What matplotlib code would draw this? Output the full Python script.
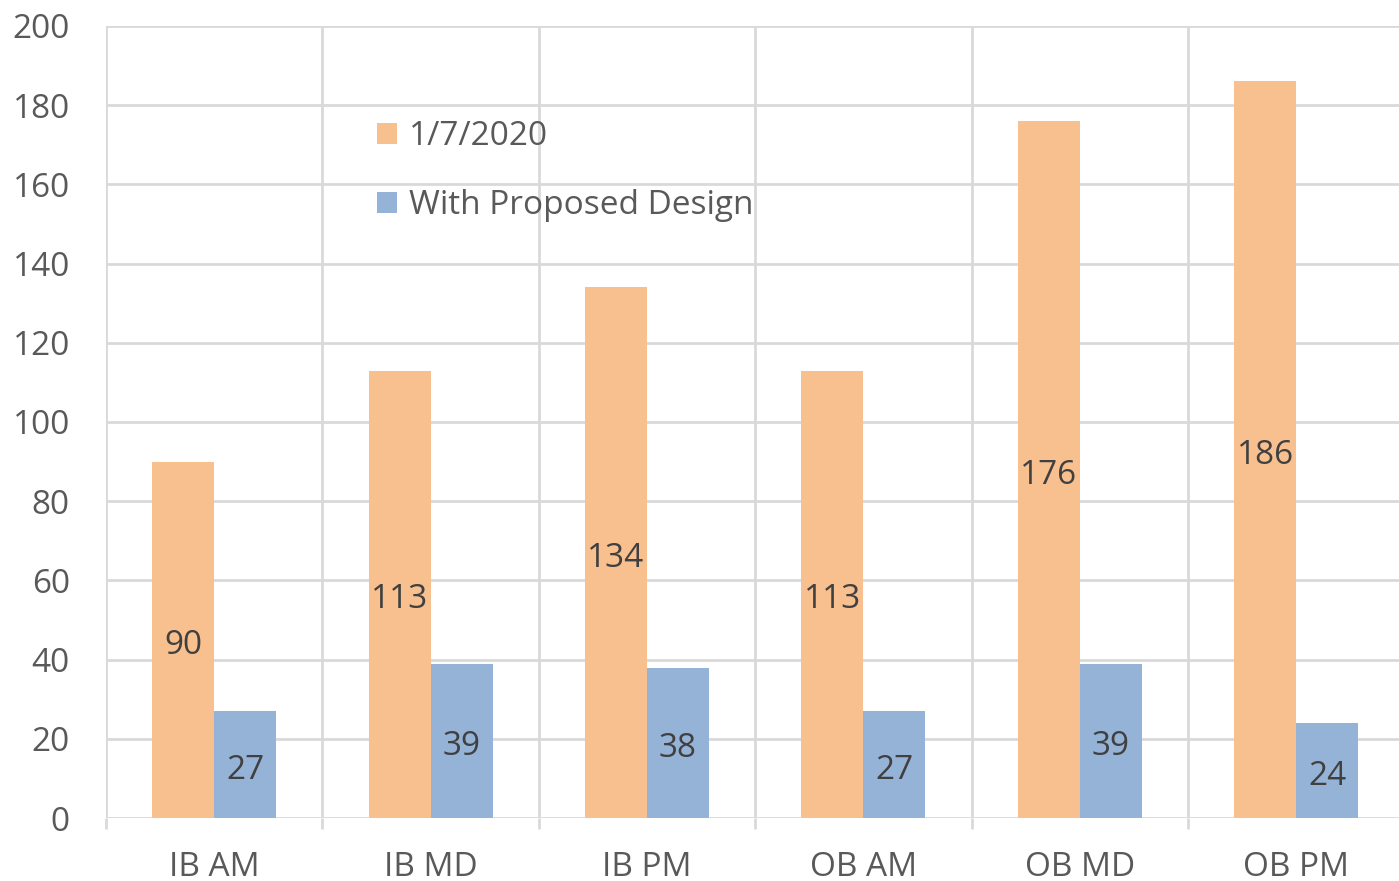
import numpy as np
import matplotlib.pyplot as plt

# Queue length by period: existing (1/7/2020) vs proposed design
categories = ['IB AM', 'IB MD', 'IB PM', 'OB AM', 'OB MD', 'OB PM']
existing = [90, 113, 134, 113, 176, 186]
proposed = [27, 39, 38, 27, 39, 24]
series_names = ['1/7/2020', 'With Proposed Design']

plt.rcParams['font.family'] = ['Open Sans', 'DejaVu Sans']

fig = plt.figure(figsize=(13.99, 8.81), dpi=100)
ax = fig.add_axes([0.0758, 0.0715, 0.928, 0.899])

x = np.arange(len(categories))
w = 0.287
b1 = ax.bar(x - w / 2, existing, w, color='#F9C08F', label=series_names[0], zorder=2)
b2 = ax.bar(x + w / 2, proposed, w, color='#95B3D7', label=series_names[1], zorder=2)

# value labels in the middle of each bar
for bars, vals in [(b1, existing), (b2, proposed)]:
    for r, v in zip(bars, vals):
        ax.annotate(str(v), (r.get_x() + r.get_width() / 2, v / 2),
                    xytext=(0, -4), textcoords='offset points',
                    ha='center', va='center', fontsize=24, color='#404040', zorder=3)

ax.set_xlim(-0.5, 5.5)
ax.set_ylim(0, 200)
ax.set_yticks(range(0, 201, 20))
ax.set_xticks(x)
ax.set_xticklabels(categories)
ax.set_xticks(np.arange(-0.5, 6, 1), minor=True)

grid_c = '#D9D9D9'
ax.grid(axis='y', color=grid_c, linewidth=2, zorder=0)
ax.grid(axis='x', which='minor', color=grid_c, linewidth=2, zorder=0)
ax.grid(axis='x', which='major', visible=False)

for s in ax.spines.values():
    s.set_visible(False)

ax.tick_params(axis='y', length=0, pad=26, labelsize=24, labelcolor='#595959')
ax.tick_params(axis='x', which='major', length=0, pad=24, labelsize=24, labelcolor='#595959')
ax.tick_params(axis='x', which='minor', length=8, width=2, color=grid_c)

leg = ax.legend(loc='upper left', bbox_to_anchor=(377 / 1399, 1 - 120 / 881),
                bbox_transform=fig.transFigure, frameon=False, fontsize=24,
                handlelength=0.6, handleheight=0.6, handletextpad=0.36,
                labelspacing=1.08, borderpad=0, borderaxespad=0)
for t in leg.get_texts():
    t.set_color('#595959')

fig.savefig('out.png', dpi=100)
